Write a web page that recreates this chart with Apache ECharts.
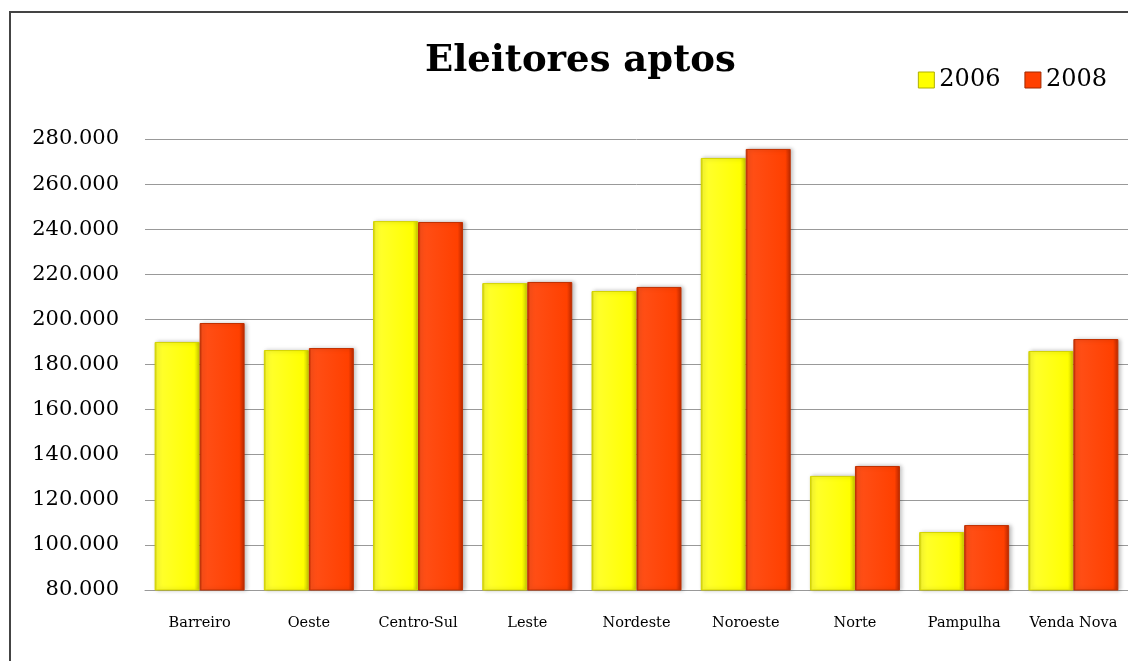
<!DOCTYPE html>
<html>
<head>
<meta charset="utf-8">
<script src="https://cdn.jsdelivr.net/npm/echarts@6/dist/echarts.min.js"></script>
<style>
  * { margin: 0; padding: 0; }
  html, body { background: #fff; }
  #chart-container { width: 1128px; height: 661px; }
</style>
</head>
<body>
<div id="chart-container"></div>
<script>
  var categories = ['Barreiro', 'Oeste', 'Centro-Sul', 'Leste', 'Nordeste', 'Noroeste', 'Norte', 'Pampulha', 'Venda Nova']
  var values2006 = [190000, 186400, 243600, 216100, 212600, 271600, 130600, 105700, 186000]
  var values2008 = [198400, 187300, 243200, 216600, 214400, 275600, 135000, 108800, 191300]

  var serif = "'DejaVu Serif', 'Liberation Serif', serif"

  function barColor(light, mid, dark) {
    return new echarts.graphic.LinearGradient(0, 0, 1, 0, [
      { offset: 0, color: dark },
      { offset: 0.06, color: light },
      { offset: 0.88, color: mid },
      { offset: 1, color: dark },
    ])
  }

  var chartDom = document.getElementById('chart-container')
  var myChart = echarts.init(chartDom, null, { renderer: 'canvas' })
  var option = {
    animation: false,
    title: {
      text: 'Eleitores aptos',
      left: 420,
      top: 38,
      textStyle: { fontFamily: serif, fontWeight: 'bold', fontSize: 37, color: '#000' },
    },
    legend: {
      right: 16,
      top: 63,
      itemWidth: 16,
      itemHeight: 16,
      itemGap: 24,
      icon: 'rect',
      textStyle: { fontFamily: serif, fontSize: 24, color: '#000' },
      data: [
        { name: '2006', itemStyle: { color: '#ffff00', borderColor: '#b0b000', borderWidth: 1 } },
        { name: '2008', itemStyle: { color: '#ff4000', borderColor: '#a02800', borderWidth: 1 } },
      ],
    },
    graphic: [
      {
        type: 'rect',
        shape: { x: 10, y: 12, width: 1140, height: 680 },
        style: { fill: 'none', stroke: '#444', lineWidth: 2 },
        z: 100,
      },
    ],
    grid: { left: 145, top: 139, width: 988, height: 451, containLabel: false },
    xAxis: {
      type: 'category',
      data: categories,
      axisLine: { show: true, lineStyle: { color: '#999' } },
      axisTick: { show: false },
      axisLabel: { interval: 0, fontFamily: serif, fontSize: 14.5, color: '#000', margin: 26 },
    },
    yAxis: {
      type: 'value',
      min: 80000,
      max: 280000,
      interval: 20000,
      axisLine: { show: false },
      axisTick: { show: false },
      splitLine: { lineStyle: { color: '#999', width: 1 } },
      axisLabel: {
        fontFamily: serif,
        fontSize: 21,
        color: '#000',
        margin: 26,
        formatter: function (v) {
          return (v / 1000).toFixed(0) + '.000'
        },
      },
    },
    series: [
      {
        name: '2006',
        type: 'bar',
        data: values2006,
        barWidth: 45,
        barGap: '0%',
        itemStyle: {
          color: barColor('#ffff30', '#ffff00', '#c8c800'),
          borderColor: '#d4d400',
          borderWidth: 1,
          shadowColor: 'rgba(0,0,0,0.25)',
          shadowBlur: 4,
          shadowOffsetX: 2,
        },
      },
      {
        name: '2008',
        type: 'bar',
        data: values2008,
        barWidth: 45,
        itemStyle: {
          color: barColor('#ff5018', '#ff4000', '#b82800'),
          borderColor: '#c03000',
          borderWidth: 1,
          shadowColor: 'rgba(0,0,0,0.25)',
          shadowBlur: 4,
          shadowOffsetX: 2,
        },
      },
    ],
  }
  myChart.setOption(option)
  window.addEventListener('resize', myChart.resize)
</script>
</body>
</html>
